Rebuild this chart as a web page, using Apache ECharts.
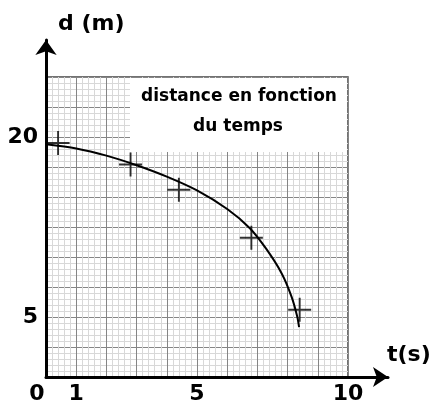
<!DOCTYPE html>
<html>
<head>
    <meta charset="utf-8" />
    <title>distance en fonction du temps</title>
    <style>
        html, body { margin: 0; padding: 0; background: #fff; }
        #chart { width: 434px; height: 405px; }
    </style>
</head>
<body>
    <div id="chart"></div>
    <script src="https://cdn.jsdelivr.net/npm/echarts@6/dist/echarts.min.js"></script>
    <script type="text/javascript">
        // courbe tracée à la main (t en s, d en m)
        const curveT = [0, 1.0, 2.0, 3.0, 4.0, 5.0, 6.0, 6.75, 7.3, 7.8, 8.13, 8.32, 8.38];
        const curveD = [19.4, 19.05, 18.45, 17.65, 16.7, 15.55, 14.0, 12.4, 10.65, 8.65, 6.7, 5.03, 4.15];
        // points de mesure (croix)
        const pointT = [0.4, 2.8, 4.4, 6.8, 8.4];
        const pointD = [19.5, 17.7, 15.6, 11.6, 5.6];
        // graduations affichées
        const xLabels = [0, 1, 5, 10];
        const yLabels = [5, 20];

        const FONT = '"DejaVu Sans", sans-serif';
        const cross = 'path://M11,0h2v11h11v2h-11v11h-2v-11h-11v-2h11z';

        const chart = echarts.init(document.getElementById('chart'));
        const option = {
            backgroundColor: '#fff',
            animation: false,
            grid: [
                { left: 46, right: 86, top: 77, bottom: 28, show: true, borderColor: '#444', borderWidth: 1.5, backgroundColor: 'transparent' },
                { left: 46, right: 46, top: 40, bottom: 28 }
            ],
            xAxis: [{
                type: 'value', gridIndex: 0, min: 0, max: 10, interval: 1,
                axisLine: { show: false },
                axisTick: { show: false },
                splitLine: { show: true, lineStyle: { color: '#858585', width: 1 } },
                minorTick: { show: false, splitNumber: 5 },
                minorSplitLine: { show: true, lineStyle: { color: '#d8d8d8', width: 1 } },
                axisLabel: {
                    margin: 6,
                    color: '#000', fontFamily: FONT, fontWeight: 'bold', fontSize: 22,
                    showMinLabel: true, showMaxLabel: true,
                    formatter: function (v) {
                        if (xLabels.indexOf(v) < 0) return '';
                        return v === 0 ? '{z|0}' : String(v);
                    },
                    rich: { z: { padding: [0, 18, 0, 0], color: '#000', fontFamily: FONT, fontWeight: 'bold', fontSize: 22 } }
                }
            }, {
                type: 'value', gridIndex: 1, min: 0, max: 1, position: 'bottom',
                axisLine: { show: true, symbol: ['none', 'arrow'], symbolSize: [15, 15], lineStyle: { color: '#000', width: 3 } },
                axisTick: { show: false }, axisLabel: { show: false }, splitLine: { show: false }
            }],
            yAxis: [{
                type: 'value', gridIndex: 0, min: 0, max: 25, interval: 2.5,
                axisLine: { show: false },
                axisTick: { show: false },
                splitLine: { show: true, lineStyle: { color: '#858585', width: 1 } },
                minorTick: { show: false, splitNumber: 5 },
                minorSplitLine: { show: true, lineStyle: { color: '#d8d8d8', width: 1 } },
                axisLabel: {
                    margin: 8,
                    color: '#000', fontFamily: FONT, fontWeight: 'bold', fontSize: 22,
                    formatter: function (v) { return yLabels.indexOf(v) >= 0 ? String(v) : ''; }
                }
            }, {
                type: 'value', gridIndex: 1, min: 0, max: 1, position: 'left',
                axisLine: { show: true, symbol: ['none', 'arrow'], symbolSize: [16, 15], lineStyle: { color: '#000', width: 3 } },
                axisTick: { show: false }, axisLabel: { show: false }, splitLine: { show: false }
            }],
            graphic: [
                {
                    type: 'rect', x: 130, y: 78, z: 10,
                    shape: { width: 217, height: 74 },
                    style: { fill: '#fff' }
                },
                {
                    type: 'text', x: 239, y: 97, z: 11,
                    style: {
                        text: 'distance en fonction', align: 'center', verticalAlign: 'middle',
                        font: 'bold 17px "DejaVu Sans", sans-serif', fill: '#000'
                    }
                },
                {
                    type: 'text', x: 238, y: 127, z: 11,
                    style: {
                        text: 'du temps', align: 'center', verticalAlign: 'middle',
                        font: 'bold 17px "DejaVu Sans", sans-serif', fill: '#000'
                    }
                },
                {
                    type: 'text', x: 58, y: 13, z: 11,
                    style: { text: 'd (m)', font: 'bold 22px "DejaVu Sans", sans-serif', fill: '#000' }
                },
                {
                    type: 'text', x: 387, y: 344, z: 11,
                    style: { text: 't(s)', font: 'bold 22px "DejaVu Sans", sans-serif', fill: '#000' }
                }
            ],
            series: [{
                type: 'line', xAxisIndex: 0, yAxisIndex: 0,
                data: curveT.map(function (t, i) { return [t, curveD[i]]; }),
                smooth: 0.3, showSymbol: false, silent: true,
                lineStyle: { color: '#000', width: 2 }, z: 5
            }, {
                type: 'scatter', xAxisIndex: 0, yAxisIndex: 0,
                data: pointT.map(function (t, i) { return [t, pointD[i]]; }),
                symbol: cross, symbolSize: [23, 24],
                itemStyle: { color: '#000' }, z: 6
            }]
        };
        chart.setOption(option);
    </script>
</body>
</html>
